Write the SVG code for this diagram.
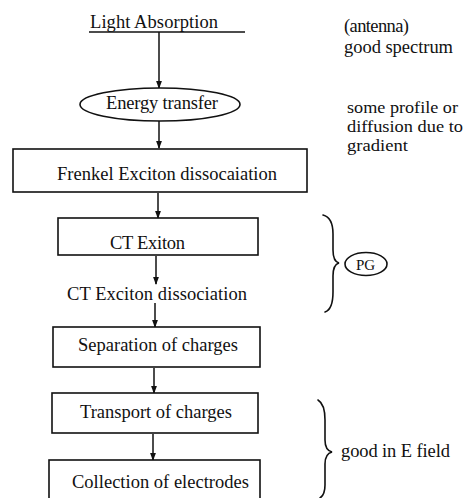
<svg xmlns="http://www.w3.org/2000/svg" width="465" height="498" viewBox="0 0 465 498">
<style>
text{font-family:"Liberation Serif","Times New Roman",serif;font-size:18.5px;fill:#111}
.c{text-anchor:middle}
.n{font-size:16.5px}
.box{fill:#fff;stroke:#111;stroke-width:1.6}
.ln{stroke:#111;stroke-width:1.5;fill:none}
.br{stroke:#111;stroke-width:1.6;fill:none;stroke-linecap:round}
</style>
<defs>
<marker id="ah" markerWidth="8" markerHeight="12" refX="7" refY="3.5" orient="auto" markerUnits="userSpaceOnUse" viewBox="0 0 8 7">
<path d="M0,0.6 L8,3.5 L0,6.4 Z" fill="#111"/>
</marker>
</defs>
<rect width="465" height="498" fill="#fff"/>
<g id="connectors">
<line class="ln" x1="159" y1="32" x2="159" y2="88" marker-end="url(#ah)"/>
<line class="ln" x1="159" y1="121" x2="159" y2="148" marker-end="url(#ah)"/>
<line class="ln" x1="158" y1="193" x2="158" y2="218" marker-end="url(#ah)"/>
<line class="ln" x1="156" y1="256" x2="156" y2="284" marker-end="url(#ah)"/>
<line class="ln" x1="155" y1="303" x2="155" y2="327" marker-end="url(#ah)"/>
<line class="ln" x1="154" y1="368" x2="154" y2="393" marker-end="url(#ah)"/>
<line class="ln" x1="153" y1="434" x2="153" y2="460" marker-end="url(#ah)"/>
</g>
<g id="light-absorption">
<text x="90" y="28" textLength="128">Light Absorption</text>
<line class="ln" x1="89" y1="32" x2="245" y2="32"/>
</g>
<g id="energy-transfer">
<ellipse class="box" cx="160" cy="104.5" rx="80" ry="16.5"/>
<text x="106" y="109" textLength="112">Energy transfer</text>
</g>
<g id="frenkel">
<rect class="box" x="13" y="149" width="294" height="43"/>
<text x="57" y="180" textLength="220">Frenkel Exciton dissocaiation</text>
</g>
<g id="ct-exiton">
<rect class="box" x="58" y="218" width="200" height="37"/>
<text x="110" y="249" textLength="75">CT Exiton</text>
</g>
<g id="ct-dissociation">
<text x="67" y="300" textLength="180">CT Exciton dissociation</text>
</g>
<g id="separation">
<rect class="box" x="53" y="327" width="207" height="40"/>
<text x="78" y="351" textLength="160">Separation of charges</text>
</g>
<g id="transport">
<rect class="box" x="52" y="393" width="206" height="40"/>
<text x="80" y="418" textLength="152">Transport of charges</text>
</g>
<g id="collection">
<rect class="box" x="49" y="460" width="211" height="44"/>
<text x="72" y="488" textLength="177">Collection of electrodes</text>
</g>
<g id="notes">
<text x="344" y="32" textLength="65">(antenna)</text>
<text x="344" y="53" textLength="109">good spectrum</text>
<text class="n" x="347" y="113" textLength="111" lengthAdjust="spacingAndGlyphs">some profile or</text>
<text class="n" x="347" y="132" textLength="116" lengthAdjust="spacingAndGlyphs">diffusion due to</text>
<text class="n" x="347" y="151" textLength="61" lengthAdjust="spacingAndGlyphs">gradient</text>
</g>
<g id="brace-pg">
<path class="br" d="M323,215 C331,217 333,224 333,234 L333,250 C333,258 335,262 339,263 C335,264 333,268 333,276 L333,292 C333,303 331,310 325,312"/>
<ellipse class="box" cx="366" cy="264" rx="21" ry="11.5"/>
<text x="365.5" y="269.5" class="c" style="font-size:15px">PG</text>
</g>
<g id="brace-efield">
<path class="br" d="M318,400 C323,403 325,410 325,420 L325,440 C325,447 328,451 332,452 C328,453 325,457 325,464 L325,485 C325,492 323,496 320,498"/>
<text x="341" y="457" textLength="109">good in E field</text>
</g>
</svg>
